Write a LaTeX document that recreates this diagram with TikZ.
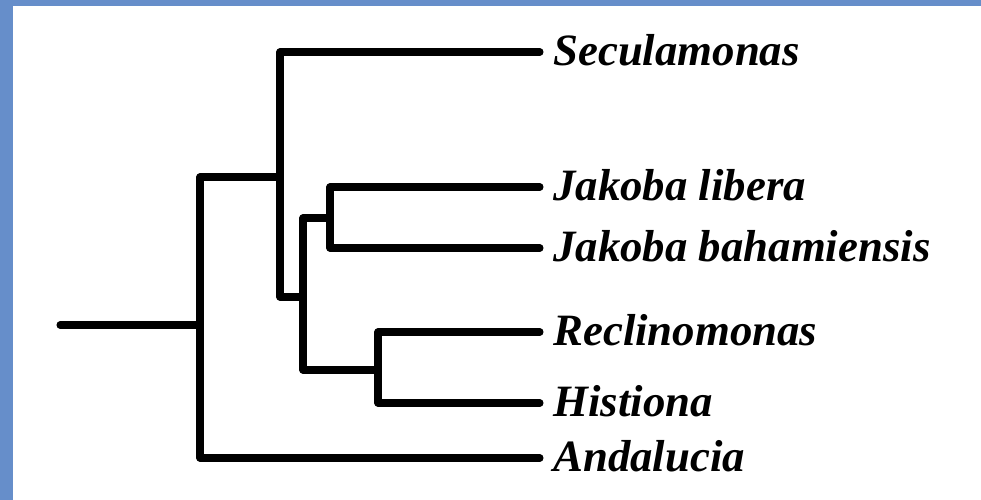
\documentclass[tikz,border=0pt]{standalone}
\usepackage{fontspec}
\setmainfont{Liberation Serif}
\definecolor{sky}{RGB}{102,142,202}
\begin{document}
\begin{tikzpicture}
	[	x=0.02cm,y=-0.02cm,
	branch/.style={line width=4pt,line cap=round,line join=round},
	taxon/.style={anchor=west,inner xsep=7.4pt,inner ysep=0pt,text height=20pt,text depth=4.6pt,font=\fontsize{25.5}{28}\selectfont\bfseries\itshape}
	]
	\fill[sky] (0,0) rectangle (981,500);
	\fill[white] (13,6) rectangle (981,500);
	% taxa
	\node[taxon] (sec) at (540,52){Seculamonas};
	\node[taxon] (jl) at (540,187){Jakoba libera};
	\node[taxon] (jb) at (540,248){Jakoba bahamiensis};
	\node[taxon] (rec) at (540,332){Reclinomonas};
	\node[taxon] (his) at (540,403){Histiona};
	\node[taxon] (anda) at (540,458){Andalucia};
	% inner nodes
	\coordinate (root) at (60,325);
	\coordinate (n1) at (200,325);
	\coordinate (n2) at (280,177);
	\coordinate (n3) at (303,297);
	\coordinate (n4) at (330,218);
	\coordinate (n5) at (378,370);
	\draw[branch] (root) -- (n1);
	\draw[branch] (n2) -| (n1) |- (anda.west);
	\draw[branch] (sec.west) -| (n2) |- (n3);
	\draw[branch] (n4) -| (n3) |- (n5);
	\draw[branch] (jl.west) -| (n4) |- (jb.west);
	\draw[branch] (rec.west) -| (n5) |- (his.west);
\end{tikzpicture}
\end{document}
